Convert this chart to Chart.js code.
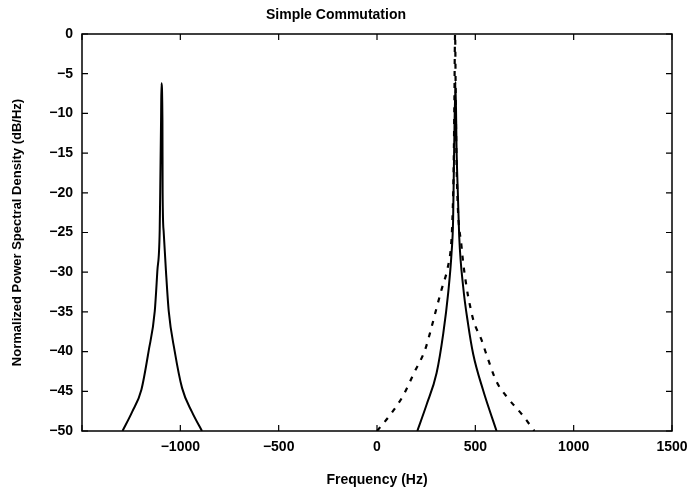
<!DOCTYPE html>
<html>
<head>
<meta charset="utf-8">
<script src="https://cdn.jsdelivr.net/npm/chart.js@4"></script>
<style>
    html, body { margin: 0; padding: 0; background: #fff; }
    #wrap { width: 692px; height: 495px; }
</style>
</head>
<body>
<div id="wrap"><canvas id="chart" width="692" height="495"></canvas></div>
<script>
const leftPeakFreq = [-1294, -1245, -1198, -1161, -1130, -1117, -1105, -1102, -1098, -1096, -1091, -1090, -1085, -1073, -1059, -1029, -991, -941, -890];
const leftPeakDb = [-50, -47.6, -44.8, -39.9, -34.9, -29.9, -24.8, -19.2, -10.8, -6.2, -10.8, -20, -24.8, -29.9, -34.9, -39.9, -44.6, -47.6, -50];

const rightPeakFreq = [205, 252, 303, 337, 362, 379, 387, 392, 399, 405, 411, 418, 438, 463, 489, 540, 608];
const rightPeakDb = [-50, -46.7, -42.7, -37.7, -32.6, -27.6, -23.4, -15, -6, -15, -20, -25.5, -31.8, -36.5, -40.3, -44.9, -50];

const dashedFreq = [0, 66, 134, 188, 244, 269, 303, 328, 359, 376, 382, 389, 393, 397, 401, 406, 430, 455, 472, 492, 531, 557, 608, 667, 740, 800];
const dashedDb = [-50, -48, -45.5, -42.7, -39.8, -37.7, -34.5, -32.2, -29.5, -26.8, -24.3, -18, -10, 0, -10, -18, -26.8, -31.8, -34.1, -36.2, -38.5, -40.4, -43.8, -45.9, -48, -50];

const xMin = -1500, xMax = 1500, xStep = 500;
const yMin = -50, yMax = 0, yStep = 5;

const FONT = 'Liberation Sans, Arial, Helvetica, sans-serif';

function toPoints(xs, ys) {
    return xs.map((x, i) => ({ x: x, y: ys[i] }));
}

function minus(v) {
    return String(v).replace('-', '\u2212');
}

function lineSet(xs, ys, dash) {
    return {
        data: toPoints(xs, ys),
        showLine: true,
        borderColor: '#000',
        borderWidth: dash ? 2.2 : 2,
        borderDash: dash || [],
        pointRadius: 0,
        cubicInterpolationMode: 'monotone'
    };
}

const frame = {
    id: 'frame',
    afterDatasetsDraw(chart) {
        const { ctx, chartArea: a, scales } = chart;
        const len = 6;
        ctx.save();
        ctx.strokeStyle = '#000';
        ctx.lineWidth = 1.5;
        ctx.strokeRect(a.left, a.top, a.right - a.left, a.bottom - a.top);
        ctx.lineWidth = 1.2;
        ctx.beginPath();
        scales.x.ticks.forEach(t => {
            const px = scales.x.getPixelForValue(t.value);
            ctx.moveTo(px, a.bottom); ctx.lineTo(px, a.bottom - len);
            ctx.moveTo(px, a.top); ctx.lineTo(px, a.top + len);
        });
        scales.y.ticks.forEach(t => {
            const py = scales.y.getPixelForValue(t.value);
            ctx.moveTo(a.left, py); ctx.lineTo(a.left + len, py);
            ctx.moveTo(a.right, py); ctx.lineTo(a.right - len, py);
        });
        ctx.stroke();
        ctx.restore();
    }
};

new Chart(document.getElementById('chart'), {
    type: 'scatter',
    data: {
        datasets: [
            lineSet(leftPeakFreq, leftPeakDb),
            lineSet(rightPeakFreq, rightPeakDb),
            lineSet(dashedFreq, dashedDb, [5, 7])
        ]
    },
    options: {
        responsive: false,
        animation: false,
        layout: { padding: { left: 0, right: 20, top: 0, bottom: 0 } },
        plugins: {
            legend: { display: false },
            tooltip: { enabled: false },
            title: {
                display: true,
                text: 'Simple Commutation',
                color: '#000',
                font: { family: FONT, size: 14, weight: 'bold' },
                padding: { top: 7, bottom: 10.2 }
            }
        },
        scales: {
            x: {
                type: 'linear',
                min: xMin,
                max: xMax,
                afterFit(scale) {
                    scale.height = 64;
                    scale.paddingRight = 20;
                },
                border: { display: false },
                grid: { display: true, drawOnChartArea: false, drawTicks: false },
                ticks: {
                    stepSize: xStep,
                    color: '#000',
                    padding: 8,
                    maxRotation: 0,
                    font: { family: FONT, size: 14, weight: 'bold' },
                    callback: v => v === xMin ? '' : minus(v)
                },
                title: {
                    display: true,
                    text: 'Frequency (Hz)',
                    color: '#000',
                    font: { family: FONT, size: 14, weight: 'bold' },
                    padding: { top: 0, bottom: 6.6 }
                }
            },
            y: {
                type: 'linear',
                min: yMin,
                max: yMax,
                afterFit(scale) { scale.width = 82; },
                border: { display: false },
                grid: { display: true, drawOnChartArea: false, drawTicks: false },
                ticks: {
                    stepSize: yStep,
                    color: '#000',
                    padding: 9,
                    font: { family: FONT, size: 14, weight: 'bold' },
                    callback: v => minus(v)
                },
                title: {
                    display: true,
                    text: 'Normalized Power Spectral Density (dB/Hz)',
                    color: '#000',
                    font: { family: FONT, size: 13, weight: 'bold' },
                    padding: { top: 9.6, bottom: 0 }
                }
            }
        }
    },
    plugins: [frame]
});
</script>
</body>
</html>
